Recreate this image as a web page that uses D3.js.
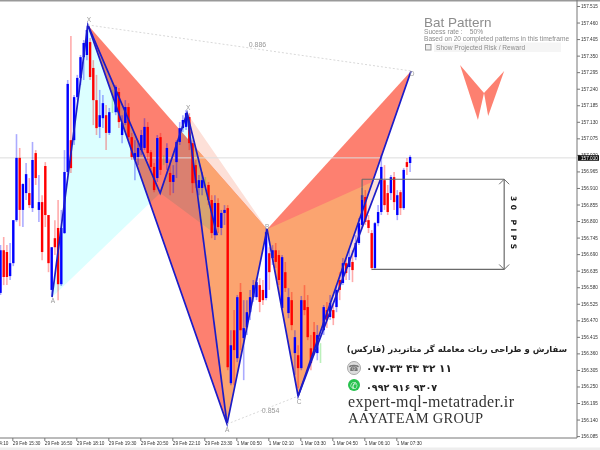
<!DOCTYPE html>
<html>
<head>
<meta charset="utf-8">
<script src="https://cdn.jsdelivr.net/npm/d3@7"></script>
<style>
  html, body { margin: 0; padding: 0; background: #fff; overflow: hidden; }
  svg { display: block; filter: blur(0.35px); }
</style>
</head>
<body>
<div id="chart"></div>
<script>
// candles, one row = 10 bars
const opens = [
  156.561,156.703,156.697,156.617,156.660,156.803,157.010,156.837,156.893,156.893,
  156.843,157.026,156.837,156.863,156.983,156.820,156.571,156.743,156.777,156.590,
  156.760,156.963,157.069,157.069,157.212,157.276,157.345,157.352,157.395,157.309,
  157.202,157.113,157.142,157.152,157.093,157.169,157.162,157.229,157.086,157.126,
  157.179,157.079,157.003,157.013,157.036,157.043,157.113,157.029,156.980,156.943,
  157.079,157.003,156.993,156.960,156.930,156.996,157.063,157.109,157.113,157.146,
  157.059,156.986,156.910,156.910,156.930,156.920,156.870,156.753,156.860,156.777,
  156.827,156.843,156.261,156.437,156.344,156.564,156.411,156.447,156.497,156.547,
  156.547,156.587,156.571,156.544,156.693,156.677,156.703,156.687,156.511,156.630,
  156.494,156.537,156.361,156.354,156.311,156.537,156.514,156.377,156.431,156.361,
  156.371,156.437,156.504,156.481,156.504,156.514,156.604,156.594,156.660,156.647,
  156.664,156.680,156.727,156.787,156.880,156.803,156.760,156.644,156.793,156.830,
  156.936,156.893,156.893,156.946,156.820,156.896,156.843,156.996,156.993];
const highs = [
  156.720,156.747,156.720,156.727,156.803,157.089,157.043,156.926,156.993,156.943,
  157.063,157.036,156.953,156.886,156.996,156.820,156.713,156.803,156.870,156.837,
  157.036,157.269,157.415,157.219,157.286,157.352,157.402,157.449,157.409,157.335,
  157.286,157.236,157.219,157.186,157.176,157.236,157.252,157.242,157.152,157.202,
  157.192,157.093,157.069,157.069,157.103,157.142,157.129,157.036,156.993,157.086,
  157.093,157.019,157.059,157.003,156.986,157.069,157.129,157.152,157.169,157.159,
  157.069,157.003,156.953,156.963,156.946,156.930,156.886,156.886,156.876,156.837,
  156.853,156.853,156.437,156.504,156.554,156.594,156.537,156.537,156.571,156.604,
  156.610,156.610,156.604,156.777,156.713,156.720,156.727,156.703,156.687,156.664,
  156.577,156.564,156.437,156.387,156.551,156.587,156.554,156.421,156.464,156.454,
  156.394,156.521,156.531,156.554,156.521,156.587,156.630,156.677,156.677,156.703,
  156.703,156.753,156.810,156.910,156.903,156.820,156.770,156.797,156.853,157.019,
  156.986,156.920,156.953,156.963,156.903,156.903,156.976,157.010,157.019];
const lows = [
  156.554,156.587,156.587,156.604,156.650,156.797,156.783,156.780,156.870,156.843,
  156.830,156.920,156.797,156.670,156.780,156.630,156.551,156.687,156.537,156.584,
  156.757,156.953,156.960,157.053,157.202,157.252,157.269,157.335,157.269,157.119,
  157.086,157.076,157.109,157.036,157.086,157.159,157.152,157.109,157.059,157.119,
  157.069,157.003,156.936,156.986,157.019,157.036,157.003,156.963,156.896,156.930,
  156.953,156.986,156.970,156.886,156.893,156.943,157.053,157.096,157.103,157.036,
  156.893,156.910,156.886,156.886,156.916,156.853,156.743,156.737,156.760,156.753,
  156.787,156.304,156.254,156.254,156.331,156.371,156.271,156.421,156.471,156.531,
  156.537,156.497,156.521,156.537,156.571,156.654,156.644,156.587,156.504,156.564,
  156.477,156.437,156.288,156.244,156.304,156.487,156.404,156.304,156.354,156.337,
  156.328,156.421,156.444,156.471,156.454,156.497,156.537,156.587,156.604,156.604,
  156.597,156.670,156.720,156.777,156.787,156.760,156.637,156.637,156.783,156.820,
  156.837,156.820,156.870,156.837,156.803,156.820,156.837,156.953,156.963];
const closes = [
  156.703,156.614,156.614,156.660,156.803,157.010,156.837,156.923,156.956,156.853,
  157.003,156.943,156.863,156.697,156.820,156.660,156.713,156.713,156.590,156.777,
  156.963,157.256,156.976,157.212,157.276,157.345,157.392,157.435,157.279,157.202,
  157.109,157.152,157.192,157.093,157.162,157.169,157.246,157.129,157.126,157.179,
  157.079,157.013,157.026,157.043,157.086,157.113,157.026,156.980,156.903,157.076,
  156.970,157.003,157.043,156.930,156.953,157.063,157.109,157.136,157.159,157.059,
  156.926,156.926,156.936,156.936,156.930,156.870,156.760,156.860,156.780,156.827,
  156.837,156.314,156.387,156.371,156.547,156.437,156.444,156.497,156.547,156.587,
  156.597,156.531,156.537,156.763,156.630,156.703,156.664,156.604,156.680,156.577,
  156.547,156.454,156.414,156.311,156.537,156.504,156.414,156.328,156.371,156.421,
  156.371,156.514,156.471,156.527,156.477,156.571,156.571,156.660,156.627,156.680,
  156.637,156.727,156.793,156.886,156.797,156.777,156.644,156.793,156.830,156.980,
  156.853,156.830,156.946,156.863,156.886,156.843,156.970,156.980,157.013];

// pattern pivots as bar number + price
const mainBars = [27.3, 70.8, 83.3, 93, 128.3];
const mainPrices = [157.452, 156.125, 156.773, 156.218, 157.299];
const innerBars = [58.3, 70.8, 83.3, 93, 118.9];
const innerPrices = [157.159, 156.125, 156.773, 156.218, 156.943];
const leftBars = [16.1, 27.3, 49.9, 58.3, 67.7];
const leftPrices = [156.547, 157.452, 156.893, 157.159, 156.753];
const iconBars = [143.6, 149.2, 151.1, 152.4, 157.4];
const iconPrices = [157.319, 157.136, 157.226, 157.149, 157.299];

const priceTicks = [157.515,157.460,157.405,157.350,157.295,157.240,157.185,157.130,157.075,157.020,
  156.965,156.910,156.855,156.800,156.745,156.690,156.635,156.580,156.525,156.470,156.415,156.360,
  156.305,156.250,156.195,156.140,156.085];
const timeLabels = ["29 Feb 14:10","29 Feb 15:30","29 Feb 16:50","29 Feb 18:10","29 Feb 19:30","29 Feb 20:50",
  "29 Feb 22:10","29 Feb 23:30","1 Mar 00:50","1 Mar 02:10","1 Mar 03:30","1 Mar 04:50","1 Mar 06:10","1 Mar 07:30"];
const timeTicks = [-6.3,3.7,13.7,23.7,33.7,43.7,53.7,63.7,73.7,83.7,93.7,103.7,113.7,123.7];
const currentPrice = 157.010;
const pipBoxHigh = 156.939, pipBoxLow = 156.639;

const width = 600, height = 450;
const plotRight = 577, plotBottom = 438;

const x = d3.scaleLinear().domain([0, 128]).range([0.5, 410.1]);
const y = d3.scaleLinear().domain([157.515, 156.085]).range([6, 436.1]);

const svg = d3.select("#chart").append("svg")
  .attr("width", width).attr("height", height)
  .style("font-family", "'Liberation Sans', Arial, sans-serif");

svg.append("defs").append("clipPath").attr("id", "plot")
  .append("rect").attr("width", plotRight).attr("height", plotBottom);

const pts = (bars, prices, idx) => idx.map(i => x(bars[i]) + "," + y(prices[i])).join(" ");

svg.append("rect").attr("width", width).attr("height", height).attr("fill", "#fff");

const defs = svg.select("defs");
defs.append("clipPath").attr("id", "redLeft").append("polygon").attr("points", pts(mainBars, mainPrices, [0, 1, 2]));
defs.append("clipPath").attr("id", "redRight").append("polygon").attr("points", pts(mainBars, mainPrices, [2, 3, 4]));

const plot = svg.append("g").attr("clip-path", "url(#plot)");

// fills - the terminal blends overlapping objects, so the overlaps are painted separately
const red = "#fd8070", pale = "#fde0d8", orange = "#fba470", cyan = "#dcffff";
plot.append("polygon").attr("points", pts(innerBars, innerPrices, [0, 1, 2])).attr("fill", pale);
plot.append("polygon").attr("points", pts(innerBars, innerPrices, [2, 3, 4])).attr("fill", pale);
plot.append("polygon").attr("points", pts(mainBars, mainPrices, [0, 1, 2])).attr("fill", red);
plot.append("polygon").attr("points", pts(mainBars, mainPrices, [2, 3, 4])).attr("fill", red);
plot.append("polygon").attr("points", pts(innerBars, innerPrices, [0, 1, 2])).attr("fill", orange).attr("clip-path", "url(#redLeft)");
plot.append("polygon").attr("points", pts(innerBars, innerPrices, [2, 3, 4])).attr("fill", orange).attr("clip-path", "url(#redRight)");
plot.selectAll(".cy").data([[0, 1, 2], [2, 3, 4]]).enter().append("polygon")
  .attr("points", d => pts(leftBars, leftPrices, d))
  .attr("fill", cyan)
  .style("mix-blend-mode", "multiply");

// current price line
plot.append("line").attr("x1", 0).attr("x2", plotRight)
  .attr("y1", y(currentPrice)).attr("y2", y(currentPrice))
  .attr("stroke", "#dcdcdc").attr("stroke-width", 1);

// candles
const bars = d3.range(opens.length);
const barColor = i => closes[i] > opens[i] ? "#0000ff" : closes[i] < opens[i] ? "#ff0000" : "#30d030";
plot.selectAll(".wick").data(bars).enter().append("line")
  .attr("class", "wick")
  .attr("x1", d => x(d)).attr("x2", d => x(d))
  .attr("y1", d => y(highs[d])).attr("y2", d => y(lows[d]))
  .attr("stroke", barColor)
  .attr("stroke-width", 1.6)
  .attr("stroke-opacity", 0.33);
plot.selectAll(".body").data(bars).enter().append("rect")
  .attr("class", "body")
  .attr("x", d => x(d) - 1.2)
  .attr("width", 2.4)
  .attr("y", d => y(Math.max(opens[d], closes[d])))
  .attr("height", d => Math.abs(y(opens[d]) - y(closes[d])))
  .attr("fill", barColor);

// zigzag legs
const leg = d3.line().x(d => x(d[0])).y(d => y(d[1]));
function zigzag(b, p, idx) {
  plot.append("path")
    .attr("d", leg(idx.map(i => [b[i], p[i]])))
    .attr("fill", "none")
    .attr("stroke", "#1c1cc8")
    .attr("stroke-width", 1.7)
    .attr("stroke-linejoin", "miter");
}
zigzag(leftBars, leftPrices, [0, 1, 2, 3, 4]);
zigzag(mainBars, mainPrices, [0, 1, 2, 3, 4]);
zigzag(innerBars, innerPrices, [0, 1]);
zigzag(innerBars, innerPrices, [3, 4]);

// dotted ratio lines
[[0, 4], [1, 3]].forEach(function (d) {
  plot.append("line")
    .attr("x1", x(mainBars[d[0]])).attr("y1", y(mainPrices[d[0]]))
    .attr("x2", x(mainBars[d[1]])).attr("y2", y(mainPrices[d[1]]))
    .attr("stroke", "#d8d8d8").attr("stroke-width", 1).attr("stroke-dasharray", "2,2");
});
const midX = (a, b) => (x(mainBars[a]) + x(mainBars[b])) / 2;
const midY = (a, b) => (y(mainPrices[a]) + y(mainPrices[b])) / 2;
const greyText = (tx, ty, s, size, col) => plot.append("text").attr("x", tx).attr("y", ty).text(s)
  .attr("font-size", size).attr("fill", col || "#999").attr("text-anchor", "middle");
greyText(midX(0, 4) + 8, midY(0, 4) - 0.5, "0.886", 7);
greyText(midX(1, 3) + 8, midY(1, 3) + 3, "0.854", 7);
greyText(x(mainBars[0]) + 1, y(mainPrices[0]) - 3, "X", 6.5);
greyText(x(innerBars[0]) + 1, y(innerPrices[0]) - 3, "X", 6.5);
greyText(x(leftBars[0]) + 1, y(leftPrices[0]) + 6, "A", 6.5);
greyText(x(mainBars[1]), y(mainPrices[1]) + 8, "A", 6.5);
greyText(x(mainBars[2]), y(mainPrices[2]) - 0.5, "B", 6.5);
greyText(x(mainBars[3]) + 1, y(mainPrices[3]) + 8, "C", 6.5);
greyText(x(mainBars[4]) + 1, y(mainPrices[4]) + 5, "D", 6.5);

// 30 pips box
const boxLeft = 113, boxLow = 116, boxRight = 157.4;
const boxCol = "#6a6a6a";
const seg = (b1, p1, b2, p2) => plot.append("line")
  .attr("x1", x(b1)).attr("y1", y(p1)).attr("x2", x(b2)).attr("y2", y(p2))
  .attr("stroke", boxCol).attr("stroke-width", 1.2);
seg(boxLeft, pipBoxHigh, boxRight, pipBoxHigh);
seg(boxLow, pipBoxLow, boxRight, pipBoxLow);
seg(boxLeft, pipBoxHigh, boxLeft, 156.870);
seg(boxRight, pipBoxHigh, boxRight, pipBoxLow);
plot.append("path")
  .attr("d", "M" + (x(boxRight) - 5) + "," + (y(pipBoxHigh) + 5) + "L" + x(boxRight) + "," + y(pipBoxHigh) + "L" + (x(boxRight) + 5) + "," + (y(pipBoxHigh) + 5)
    + "M" + (x(boxRight) - 5) + "," + (y(pipBoxLow) - 5) + "L" + x(boxRight) + "," + y(pipBoxLow) + "L" + (x(boxRight) + 5) + "," + (y(pipBoxLow) - 5))
  .attr("fill", "none").attr("stroke", boxCol).attr("stroke-width", 1);
plot.append("text")
  .attr("transform", "translate(511," + y((pipBoxHigh + pipBoxLow) / 2) + ") rotate(90)")
  .attr("text-anchor", "middle")
  .attr("font-size", 7.5).attr("font-weight", "bold").attr("letter-spacing", 3.5)
  .attr("font-family", "'DejaVu Sans', sans-serif")
  .attr("fill", "#111")
  .text("30 PIPS");

// title panel
const panel = svg.append("g").attr("fill", "#8c8c8c");
panel.append("text").attr("x", 424).attr("y", 26.5).attr("font-size", 13.5).text("Bat Pattern");
panel.append("text").attr("x", 424).attr("y", 33.5).attr("font-size", 6.6).attr("xml:space", "preserve").text("Sucess rate :    50%");
panel.append("text").attr("x", 424).attr("y", 40.5).attr("font-size", 6.6).text("Based on 20 completed patterns in this timeframe");
panel.append("rect").attr("x", 434).attr("y", 42.5).attr("width", 127).attr("height", 9.5).attr("fill", "#f5f5f5");
panel.append("rect").attr("x", 425.5).attr("y", 44.5).attr("width", 5.5).attr("height", 5.5).attr("fill", "#eee").attr("stroke", "#999").attr("stroke-width", 1);
panel.append("text").attr("x", 436).attr("y", 50).attr("font-size", 6.6).text("Show Projected Risk / Reward");

// small bat icon
plot.selectAll(".icon").data([[0, 1, 2], [2, 3, 4]]).enter().append("polygon")
  .attr("points", d => pts(iconBars, iconPrices, d))
  .attr("fill", "#fd8070");

// frame and axes
svg.append("rect").attr("x", 0).attr("y", 0).attr("width", width).attr("height", 1.5).attr("fill", "#999");
svg.append("rect").attr("x", 0).attr("y", 447.5).attr("width", width).attr("height", 2.5).attr("fill", "#eee");

const yAxis = svg.append("g")
  .attr("transform", "translate(" + plotRight + ",0)")
  .call(d3.axisRight(y).tickValues(priceTicks).tickFormat(d3.format(".3f")).tickSize(3).tickPadding(1));
yAxis.select(".domain").attr("stroke", "#777").attr("d", "M0,0V" + plotBottom);
yAxis.selectAll("line").attr("stroke", "#777");
yAxis.selectAll("text").attr("font-size", 4.7).attr("fill", "#333").attr("font-family", "'Liberation Sans', sans-serif");

const xAxis = svg.append("g")
  .attr("transform", "translate(0," + plotBottom + ")")
  .call(d3.axisBottom(x).tickValues(timeTicks).tickFormat((d, i) => timeLabels[i]).tickSize(3).tickPadding(1));
xAxis.select(".domain").attr("stroke", "#777").attr("d", "M0,0H" + plotRight);
xAxis.selectAll("line").attr("stroke", "#777");
xAxis.selectAll("text").attr("font-size", 4.7).attr("fill", "#333")
  .attr("text-anchor", "start").attr("font-family", "'Liberation Sans', sans-serif");

// current price tag
svg.append("rect").attr("x", plotRight + 1).attr("y", y(currentPrice) - 2.7).attr("width", 21).attr("height", 5.6).attr("fill", "#111");
svg.append("text").attr("x", plotRight + 4).attr("y", y(currentPrice) + 1.8).attr("font-size", 4.7).attr("fill", "#fff").text(d3.format(".3f")(currentPrice));

// contact block
const adv = svg.append("g");
adv.append("text").attr("x", 567).attr("y", 352).attr("direction", "rtl")
  .attr("font-family", "'DejaVu Sans', sans-serif").attr("font-size", 8.5).attr("font-weight", "bold").attr("fill", "#222")
  .text("سفارش و طراحی ربات معامله گر متاتریدر (فارکس)");
adv.append("circle").attr("cx", 354).attr("cy", 368).attr("r", 6.5).attr("fill", "#ddd").attr("stroke", "#aaa");
adv.append("text").attr("x", 354).attr("y", 371).attr("text-anchor", "middle").attr("font-size", 9).attr("fill", "#777")
  .attr("font-family", "'DejaVu Sans', sans-serif").text("☎");
adv.append("circle").attr("cx", 354).attr("cy", 385).attr("r", 6).attr("fill", "#28c24e");
adv.append("text").attr("x", 354).attr("y", 388.5).attr("text-anchor", "middle").attr("font-size", 9).attr("fill", "#fff")
  .attr("font-family", "'DejaVu Sans', sans-serif").text("✆");
adv.append("text").attr("x", 366).attr("y", 372).attr("font-family", "'DejaVu Sans', sans-serif")
  .attr("font-size", 10.5).attr("font-weight", "bold").attr("fill", "#222").attr("xml:space", "preserve").text("۰۷۷-۳۳ ۴۳ ۳۲ ۱۱");
adv.append("text").attr("x", 366).attr("y", 391).attr("font-family", "'DejaVu Sans', sans-serif")
  .attr("font-size", 9.6).attr("font-weight", "bold").attr("fill", "#222").attr("xml:space", "preserve").text("۰۹۹۲ ۹۱۶ ۹۳۰۷");
adv.append("text").attr("x", 348).attr("y", 407).attr("font-family", "'Liberation Serif', serif")
  .attr("font-size", 16).attr("letter-spacing", 0.4).attr("fill", "#333").text("expert-mql-metatrader.ir");
adv.append("text").attr("x", 348).attr("y", 423).attr("font-family", "'Liberation Serif', serif")
  .attr("font-size", 14.5).attr("letter-spacing", 0.3).attr("fill", "#333").text("AAYATEAM GROUP");
</script>
</body>
</html>
